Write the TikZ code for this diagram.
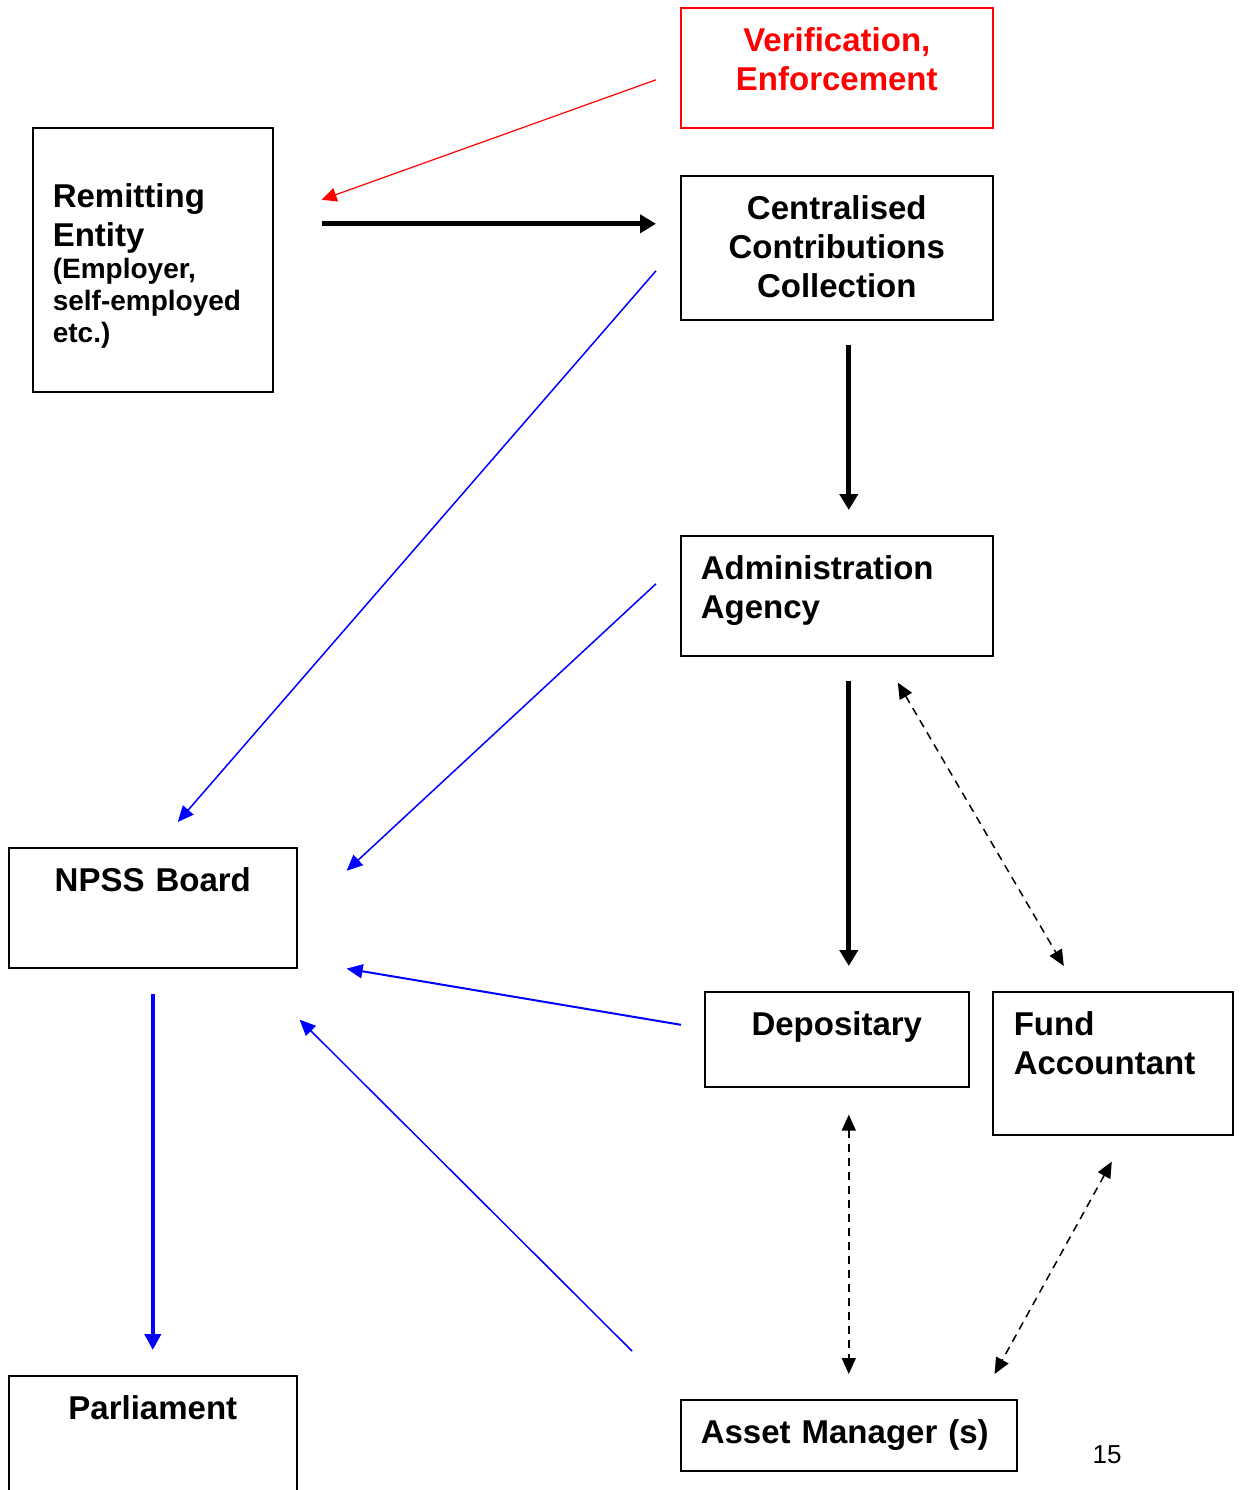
\documentclass[tikz,border=0pt]{standalone}
\usepackage{fontspec}
\setmainfont{Liberation Sans}
\usetikzlibrary{positioning, calc, arrows.meta}

\begin{document}
\begin{tikzpicture}[x=0.5pt, y=-0.5pt,
                box/.style={draw, thick, anchor=north west, inner ysep=0pt, inner xsep=0pt,
                        font=\fontsize{16.5}{19.5}\selectfont\bfseries, text height=22pt},
                lbox/.style={box, inner xsep=10pt, align=left},
                cbox/.style={box, align=center},
                flow/.style={-{Triangle[length=8pt, width=9pt]}, line width=2.5pt},
                feed/.style={-{Triangle[length=8pt, width=7pt]}, blue, line width=0.75pt},
                link/.style={{Triangle[length=8pt, width=7pt]}-{Triangle[length=8pt, width=7pt]},
                        line width=0.75pt, dash pattern=on 4pt off 3pt}]
                \useasboundingbox (0,0) rectangle (1242,1490);

                % Boxes
                \node[cbox, draw=red, text=red, text width=156pt, text depth=38pt] (verif) at (680,7)
                    {Verification,\\Enforcement};
                \node[lbox, text width=100pt, text height=40pt, text depth=92pt] (remit) at (32,127)
                    {Remitting\\Entity\par{\fontsize{14}{16}\selectfont(Employer,\\self-employed\\etc.)\par}};
                \node[cbox, text width=156pt, text depth=50pt] (ccc) at (680,175)
                    {Centralised\\Contributions\\Collection};
                \node[lbox, text width=136pt, text depth=38pt] (admin) at (680,535)
                    {Administration\\Agency};
                \node[cbox, text width=144pt, text depth=38pt] (npss) at (8,847) {NPSS Board};
                \node[cbox, text width=132pt, text depth=25.5pt] (depos) at (704,991) {Depositary};
                \node[lbox, inner xsep=10.5pt, text width=99pt, text depth=49.5pt] (fundacc) at (992,991)
                    {Fund\\Accountant};
                \node[cbox, text width=144pt, text depth=45pt] (parl) at (8,1375) {Parliament};
                \node[lbox, text width=148pt, text depth=13.5pt] (asset) at (680,1399) {Asset Manager (s)};
                \node[font=\fontsize{13}{15}\selectfont] (pageno) at (1107,1455) {15};

                % Contribution flow
                \draw[-{Triangle[length=7.5pt, width=7pt]}, red, line width=0.6pt]
                    ($(verif.west)+(-24,12)$) -- ($(remit.east)+(48,-60)$);
                \draw[flow] ($(remit.east)+(48,-36)$) -- ($(ccc.west)+(-24,-24)$);
                \draw[flow] ($(ccc.south)+(12,24)$) -- ($(admin.north)+(12,-25)$);
                \draw[flow] ($(admin.south)+(12,24)$) -- ($(depos.north)+(12,-25)$);

                % Reporting to the board
                \draw[feed] ($(ccc.west)+(-24,23)$) -- ($(npss.north)+(25,-25)$);
                \draw[feed] ($(admin.west)+(-24,-12)$) -- ($(npss.east)+(49,-37)$);
                \draw[feed, line width=1pt] ($(depos.west)+(-23,-14.5)$) -- ($(npss.south east)+(49,0)$);
                \draw[feed] ($(asset.north west)+(-48,-48)$) -- ($(npss.south east)+(2,51)$);
                \draw[feed, line width=2pt, -{Triangle[length=8pt, width=8pt]}]
                    ($(npss.south)+(0,25)$) -- ($(parl.north)+(0,-25)$);

                % Two-way links
                \draw[link] ($(admin.south)+(61,26)$) -- ($(fundacc.north)+(-49,-25)$);
                \draw[link] ($(depos.south)+(12,27)$) -- ($(asset.north)+(0,-25)$);
                \draw[link] ($(fundacc.south)+(-1,26)$) -- ($(asset.north east)+(-23,-25)$);
            \end{tikzpicture}
\end{document}
